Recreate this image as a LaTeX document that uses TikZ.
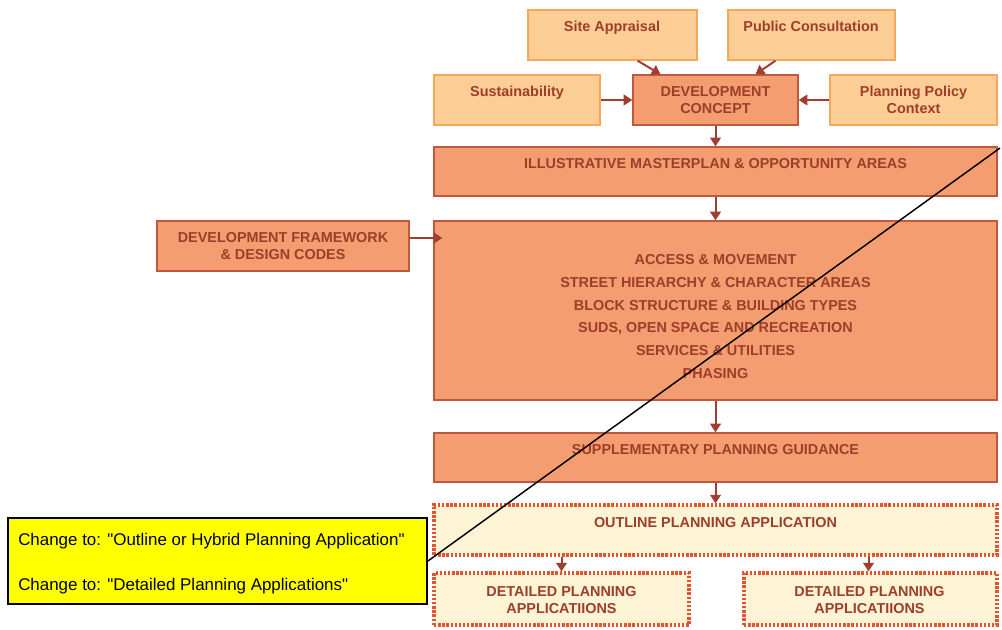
\documentclass[tikz,border=0pt]{standalone}
\usepackage{fontspec}
\setmainfont{Liberation Sans}
\newfontfamily\notefont{Liberation Sans}[Ligatures=TeXOff]
\usetikzlibrary{arrows.meta,calc}
\definecolor{lightfill}{RGB}{253,205,150}
\definecolor{lightdraw}{RGB}{244,168,92}
\definecolor{midfill}{RGB}{243,157,113}
\definecolor{middraw}{RGB}{190,88,62}
\definecolor{dotfill}{RGB}{252,244,212}
\definecolor{dotdraw}{RGB}{228,84,44}
\definecolor{txtc}{RGB}{158,62,42}
\definecolor{arrc}{RGB}{160,62,48}
\definecolor{noteyellow}{RGB}{255,255,0}
\tikzset{
  lightbox/.style={draw=lightdraw, fill=lightfill, line width=1pt, inner sep=0pt},
  midbox/.style={draw=middraw, fill=midfill, line width=1pt, inner sep=0pt},
  dotbox/.style={draw=dotdraw, fill=dotfill, line width=2.3pt, dash pattern=on 1.8pt off 1.3pt, inner sep=0pt},
  notebox/.style={draw=black, fill=noteyellow, line width=1.4pt, inner sep=0pt},
  lbl/.style={text=txtc, font=\fontsize{10.8pt}{12.75pt}\selectfont\bfseries, align=center, inner sep=0pt},
  one/.style={text height=7.7pt, text depth=0pt},
  arr/.style={draw=arrc, line width=1.5pt, -{Triangle[length=6.5pt,width=8pt]}},
  notetxt/.style={font=\notefont\fontsize{12.7pt}{15pt}\selectfont, anchor=west, inner sep=0pt, text height=9pt, text depth=0pt},
}
\begin{document}
\begin{tikzpicture}[x=0.75pt,y=-0.75pt]
\useasboundingbox (0,0) rectangle (1002,630);
% boxes
\node[lightbox, minimum width=169*0.75pt, minimum height=50*0.75pt] (sa) at (612.5,35) {};
\node[lightbox, minimum width=167*0.75pt, minimum height=50*0.75pt] (pc) at (811.5,35) {};
\node[lightbox, minimum width=166*0.75pt, minimum height=50*0.75pt] (su) at (517,100) {};
\node[midbox, minimum width=165*0.75pt, minimum height=50*0.75pt] (dc) at (715.5,100) {};
\node[lightbox, minimum width=167*0.75pt, minimum height=50*0.75pt] (pp) at (913.5,100) {};
\node[midbox, minimum width=563*0.75pt, minimum height=49*0.75pt] (il) at (715.5,171.5) {};
\node[midbox, minimum width=252*0.75pt, minimum height=50*0.75pt] (df) at (283,246) {};
\node[midbox, minimum width=563*0.75pt, minimum height=179*0.75pt] (big) at (715.5,310.5) {};
\node[midbox, minimum width=563*0.75pt, minimum height=49*0.75pt] (spg) at (715.5,457.5) {};
\node[dotbox, minimum width=563*0.75pt, minimum height=50*0.75pt] (op) at (715.5,530) {};
\node[dotbox, minimum width=255*0.75pt, minimum height=52*0.75pt] (dl) at (561.5,599) {};
\node[dotbox, minimum width=253*0.75pt, minimum height=52*0.75pt] (dr) at (870.5,599) {};
\node[notebox, minimum width=419*0.75pt, minimum height=86*0.75pt] (note) at (217.5,561) {};
% labels
\node[lbl, one] (tsa) at (612,26) {Site Appraisal};
\node[lbl, one] (tpc) at (811,26) {Public Consultation};
\node[lbl, one] (tsu) at (517,91) {Sustainability};
\node[lbl] (tdc) at (715.5,100) {DEVELOPMENT\\CONCEPT};
\node[lbl] (tpp) at (913.5,100) {Planning Policy\\Context};
\node[lbl, one] (til) at (715.5,163) {ILLUSTRATIVE MASTERPLAN \& OPPORTUNITY AREAS};
\node[lbl] (tdf) at (283,246.5) {DEVELOPMENT FRAMEWORK\\\& DESIGN CODES};
\node[lbl, font=\fontsize{10.8pt}{17pt}\selectfont\bfseries] (tbig) at (715.5,316.5)
  {ACCESS \& MOVEMENT\\STREET HIERARCHY \& CHARACTER AREAS\\BLOCK STRUCTURE \& BUILDING TYPES\\SUDS, OPEN SPACE AND RECREATION\\SERVICES \& UTILITIES\\PHASING};
\node[lbl, one] (tspg) at (715.5,449) {SUPPLEMENTARY PLANNING GUIDANCE};
\node[lbl, one] (top) at (715.5,522) {OUTLINE PLANNING APPLICATION};
\node[lbl] (tdl) at (561.5,600.5) {DETAILED PLANNING\\APPLICATIIONS};
\node[lbl] (tdr) at (869.5,600.5) {DETAILED PLANNING\\APPLICATIIONS};
\node[notetxt] (n1) at (18,539) {Change to: "Outline or Hybrid Planning Application"};
\node[notetxt] (n2) at (18,584) {Change to: "Detailed Planning Applications"};
% arrows
\draw[arr] ($(sa.south)+(25,0)$) -- ($(dc.north)+(-55,0)$);
\draw[arr] ($(pc.south)+(-36,0)$) -- ($(dc.north)+(40,0)$);
\draw[arr] (su.east) -- (dc.west);
\draw[arr] (pp.west) -- (dc.east);
\draw[arr] (dc.south) -- (il.north);
\draw[arr] (il.south) -- (big.north);
\coordinate (a1) at ($(df.east)+(0,-8)$);
\draw[arr] (a1) -- ($(a1 -| big.west)+(9,0)$);
\draw[arr] (big.south) -- (spg.north);
\draw[arr] (spg.south) -- (op.north);
\draw[arr] (op.south -| dl) -- (dl.north);
\draw[arr] ($(op.south -| dr)+(-2,0)$) -- ($(dr.north)+(-2,0)$);
% callout line
\coordinate (lineend) at (1000,148);
\draw[black, line width=1.1pt] (note.east) -- (lineend);
\end{tikzpicture}
\end{document}
